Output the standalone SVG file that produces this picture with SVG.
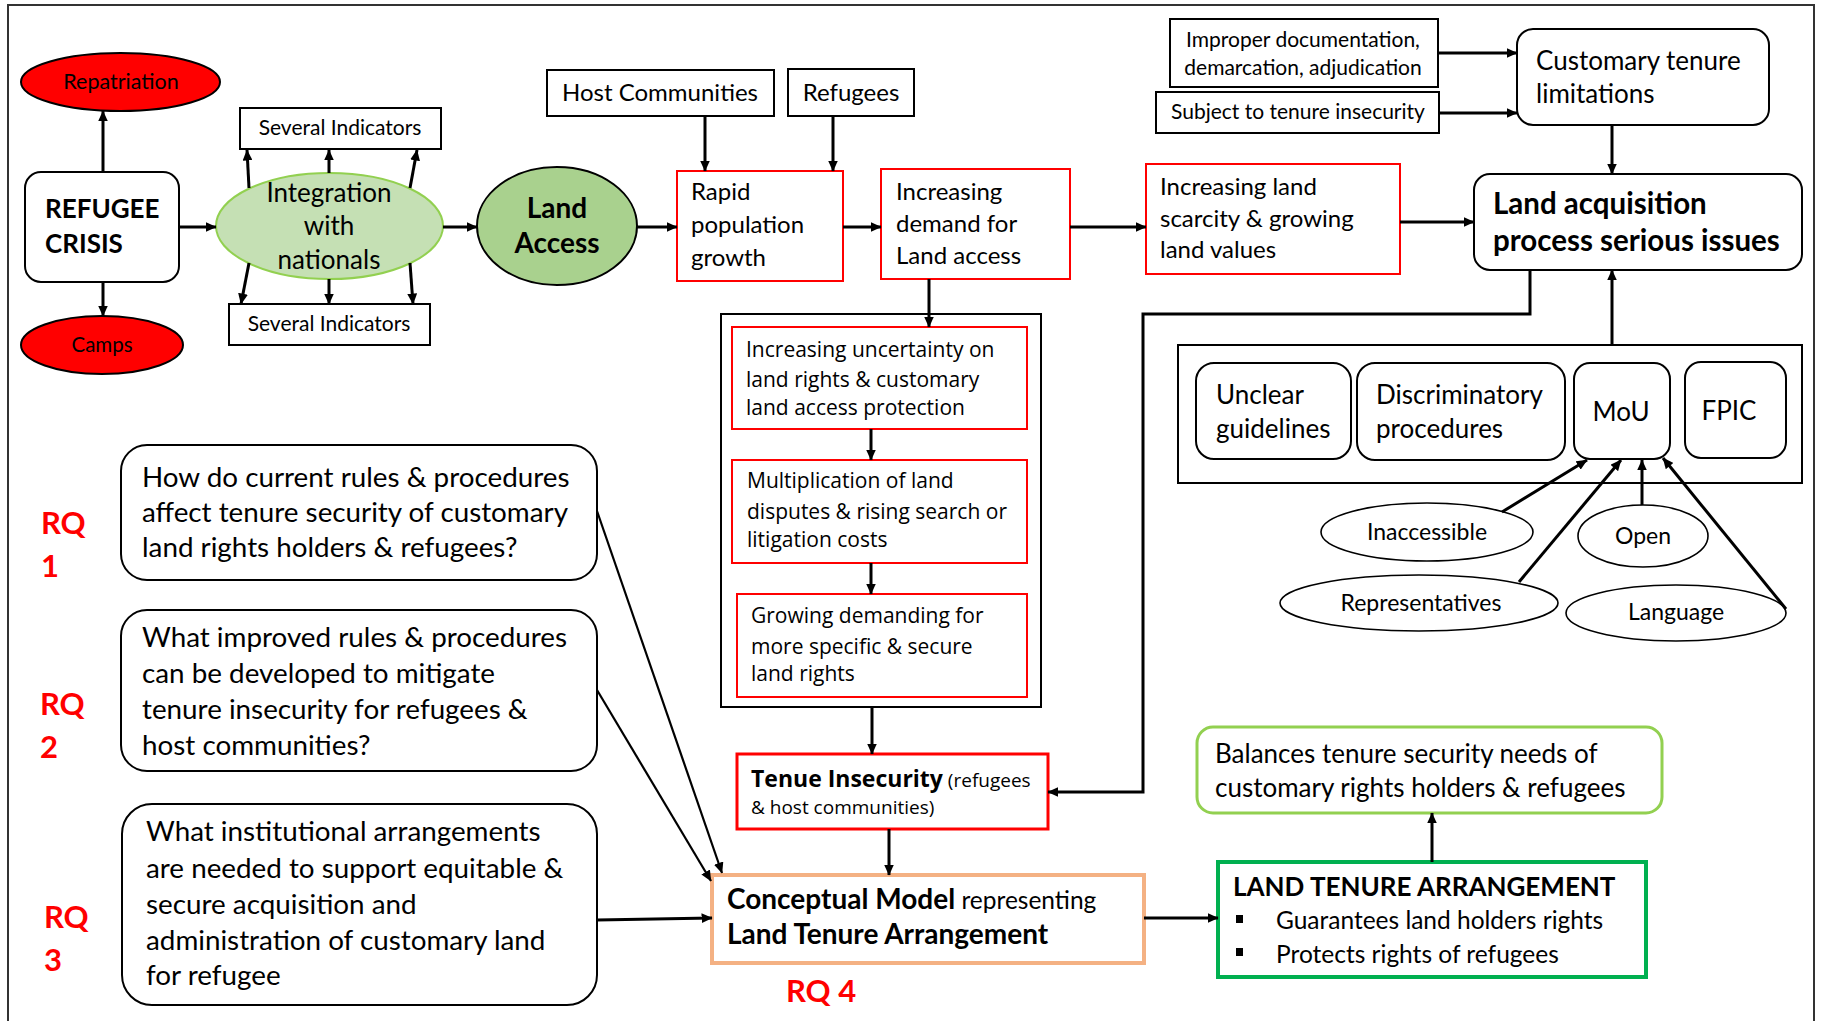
<svg xmlns="http://www.w3.org/2000/svg" width="1822" height="1021" viewBox="0 0 1822 1021">
  <defs>
    <marker id="arrow" viewBox="0 0 10 9" refX="9.5" refY="4.5" markerWidth="11" markerHeight="10" markerUnits="userSpaceOnUse" orient="auto">
      <path d="M0,0 L10,4.5 L0,9 z" fill="#000"/>
    </marker>
    <style>
      text { font-family: Lato, "Open Sans", "Liberation Sans", sans-serif; fill: #000; }
      .box { fill: #fff; stroke: #000; stroke-width: 2; }
      .red { fill: #fff; stroke: #ff0000; stroke-width: 2; }
      .redfill { fill: #ff0000; stroke: #000; stroke-width: 2; }
      .oval { fill: #fff; stroke: #000; stroke-width: 1.6; }
      .t20 { font-size: 20.5px; }
      .t21 { font-size: 21px; }
      .t23 { font-size: 23px; }
      .t24 { font-size: 24px; }
      .t26 { font-size: 26px; }
      .t27 { font-size: 27.8px; }
      .b { font-weight: bold; }
      .c { text-anchor: middle; }
      .os { font-family: "Open Sans", "Noto Sans", sans-serif; font-size: 21px; }
      .rq { font-size: 31px; font-weight: bold; fill: #ff0000; }
      #connectors path { fill: none; stroke: #000; stroke-width: 3; }
      #connectors path.thin { stroke-width: 2.2; }
    </style>
  </defs>

  <rect width="1822" height="1021" fill="#fff"/>
  <!-- frame -->
  <rect x="8" y="5" width="1806" height="1040" fill="none" stroke="#333" stroke-width="2"/>

  <!-- left cluster -->
  <g id="repatriation">
    <ellipse class="redfill" cx="120.5" cy="82" rx="99.5" ry="29"/>
    <text class="c" font-size="21.5" x="121" y="89">Repatriation</text>
  </g>
  <g id="camps">
    <ellipse class="redfill" cx="102" cy="345" rx="81" ry="29"/>
    <text class="t20 c" x="102" y="352">Camps</text>
  </g>
  <g id="refugee-crisis">
    <rect class="box" x="25" y="172" width="154" height="110" rx="16"/>
    <text class="b" x="45" y="218" font-size="26">REFUGEE</text>
    <text class="b" x="45" y="253" font-size="26">CRISIS</text>
  </g>
  <g id="integration">
    <ellipse cx="329.5" cy="226" rx="113.5" ry="53" fill="#c5e0b4" stroke="#92d050" stroke-width="2"/>
    <text class="t26 c" x="329" y="202">Integration</text>
    <text class="t26 c" x="329" y="235">with</text>
    <text class="t26 c" x="329" y="269">nationals</text>
  </g>
  <g id="indicators-top">
    <rect class="box" x="240" y="108" width="201" height="41"/>
    <text class="c" font-size="21" x="340" y="135">Several Indicators</text>
  </g>
  <g id="indicators-bottom">
    <rect class="box" x="229" y="304" width="201" height="41"/>
    <text class="c" font-size="21" x="329" y="331">Several Indicators</text>
  </g>
  <g id="land-access">
    <ellipse cx="557" cy="226" rx="80" ry="59" fill="#a9d18e" stroke="#000" stroke-width="2"/>
    <text class="b c" x="557" y="218" font-size="28">Land</text>
    <text class="b c" x="557" y="253" font-size="28">Access</text>
  </g>

  <!-- growth chain -->
  <g id="host-communities">
    <rect class="box" x="547" y="70" width="227" height="46"/>
    <text class="t24 c" x="660" y="101">Host Communities</text>
  </g>
  <g id="refugees">
    <rect class="box" x="788" y="69" width="126" height="47"/>
    <text class="t24 c" x="851" y="101">Refugees</text>
  </g>
  <g id="rapid-growth">
    <rect class="red" x="677" y="171" width="166" height="110"/>
    <text class="t24" x="691" y="200">Rapid</text>
    <text class="t24" x="691" y="233">population</text>
    <text class="t24" x="691" y="266">growth</text>
  </g>
  <g id="increasing-demand">
    <rect class="red" x="881" y="169" width="189" height="110"/>
    <text class="t24" x="896" y="200">Increasing</text>
    <text class="t24" x="896" y="232">demand for</text>
    <text class="t24" x="896" y="264">Land access</text>
  </g>
  <g id="land-scarcity">
    <rect class="red" x="1146" y="164" width="254" height="110"/>
    <text class="t24" x="1160" y="195">Increasing land</text>
    <text class="t24" x="1160" y="227">scarcity &amp; growing</text>
    <text class="t24" x="1160" y="258">land values</text>
  </g>

  <!-- customary tenure -->
  <g id="improper-documentation">
    <rect class="box" x="1170" y="19" width="268" height="68"/>
    <text class="t21 c" x="1303" y="47">Improper documentation,</text>
    <text class="t21 c" x="1303" y="75">demarcation, adjudication</text>
  </g>
  <g id="tenure-insecurity-input">
    <rect class="box" x="1156" y="92" width="283" height="41"/>
    <text class="t21 c" x="1298" y="119">Subject to tenure insecurity</text>
  </g>
  <g id="customary-limitations">
    <rect class="box" x="1517" y="29" width="252" height="96" rx="16"/>
    <text class="t26" x="1536" y="70">Customary tenure</text>
    <text class="t26" x="1536" y="103">limitations</text>
  </g>
  <g id="land-acquisition">
    <rect class="box" x="1474" y="174" width="328" height="96" rx="16"/>
    <text class="b" x="1493" y="214" font-size="29.5">Land acquisition</text>
    <text class="b" x="1493" y="251" font-size="29.5">process serious issues</text>
  </g>

  <!-- procedural issues -->
  <g id="issues">
    <rect class="box" x="1178" y="345" width="624" height="138"/>
    <rect class="box" x="1196" y="363" width="155" height="96" rx="18"/>
    <text class="t26" x="1216" y="404">Unclear</text>
    <text class="t26" x="1216" y="438">guidelines</text>
    <rect class="box" x="1357" y="363" width="208" height="97" rx="18"/>
    <text class="t26" x="1376" y="404">Discriminatory</text>
    <text class="t26" x="1376" y="438">procedures</text>
  </g>
  <g id="mou">
    <rect class="box" x="1574" y="363" width="96" height="96" rx="16"/>
    <text class="t26 c" x="1621" y="421">MoU</text>
  </g>
  <g id="fpic">
    <rect class="box" x="1685" y="362" width="101" height="96" rx="16"/>
    <text class="t26 c" x="1729" y="420">FPIC</text>
  </g>
  <g id="inaccessible">
    <ellipse class="oval" cx="1427" cy="532" rx="106" ry="29"/>
    <text class="t23 c" x="1427" y="540">Inaccessible</text>
  </g>
  <g id="open">
    <ellipse class="oval" cx="1643" cy="536" rx="65" ry="31"/>
    <text class="t23 c" x="1643" y="544">Open</text>
  </g>
  <g id="representatives">
    <ellipse class="oval" cx="1419" cy="603" rx="139" ry="28"/>
    <text class="t23 c" x="1421" y="611">Representatives</text>
  </g>
  <g id="language">
    <ellipse class="oval" cx="1676" cy="613" rx="110" ry="28"/>
    <text class="t23 c" x="1676" y="620">Language</text>
  </g>

  <!-- consequence column -->
  <g id="consequences">
    <rect class="box" x="721" y="314" width="320" height="393"/>
  </g>
  <g id="uncertainty">
    <rect class="red" x="732" y="327" width="295" height="102"/>
    <text class="os" x="746" y="357">Increasing uncertainty on</text>
    <text class="os" x="746" y="387">land rights &amp; customary</text>
    <text class="os" x="746" y="415">land access protection</text>
  </g>
  <g id="disputes">
    <rect class="red" x="732" y="460" width="295" height="103"/>
    <text class="os" x="747" y="488">Multiplication of land</text>
    <text class="os" x="747" y="519">disputes &amp; rising search or</text>
    <text class="os" x="747" y="547">litigation costs</text>
  </g>
  <g id="secure-rights-demand">
    <rect class="red" x="737" y="594" width="290" height="103"/>
    <text class="os" x="751" y="623">Growing demanding for</text>
    <text class="os" x="751" y="654">more specific &amp; secure</text>
    <text class="os" x="751" y="681">land rights</text>
  </g>
  <g id="tenue-insecurity">
    <rect x="737" y="754" width="311" height="75" fill="#fff" stroke="#ff0000" stroke-width="3"/>
    <text class="os" x="751" y="787"><tspan font-size="23" font-weight="bold">Tenue Insecurity</tspan><tspan font-size="19"> (refugees</tspan></text>
    <text class="os" font-size="19" x="751" y="814" style="font-size:19px">&amp; host communities)</text>
  </g>

  <!-- research questions -->
  <g id="rq1">
    <rect class="box" x="121" y="445" width="476" height="135" rx="26"/>
    <text class="t27" x="142" y="487">How do current rules &amp; procedures</text>
    <text class="t27" x="142" y="522">affect tenure security of customary</text>
    <text class="t27" x="142" y="557">land rights holders &amp; refugees?</text>
    <text class="rq" x="41" y="534">RQ</text>
    <text class="rq" x="41" y="577">1</text>
  </g>
  <g id="rq2">
    <rect class="box" x="121" y="610" width="476" height="161" rx="26"/>
    <text class="t27" x="142" y="647">What improved rules &amp; procedures</text>
    <text class="t27" x="142" y="683">can be developed to mitigate</text>
    <text class="t27" x="142" y="719">tenure insecurity for refugees &amp;</text>
    <text class="t27" x="142" y="755">host communities?</text>
    <text class="rq" x="40" y="715">RQ</text>
    <text class="rq" x="40" y="758">2</text>
  </g>
  <g id="rq3">
    <rect class="box" x="122" y="804" width="475" height="201" rx="30"/>
    <text class="t27" x="146" y="841">What institutional arrangements</text>
    <text class="t27" x="146" y="878">are needed to support equitable &amp;</text>
    <text class="t27" x="146" y="914">secure acquisition and</text>
    <text class="t27" x="146" y="950">administration of customary land</text>
    <text class="t27" x="146" y="985">for refugee</text>
    <text class="rq" x="44" y="928">RQ</text>
    <text class="rq" x="44" y="971">3</text>
  </g>

  <!-- outcome -->
  <g id="conceptual-model">
    <rect x="712" y="875" width="432" height="88" fill="#fff" stroke="#f4b183" stroke-width="4"/>
    <text x="727" y="909"><tspan class="b" font-size="28">Conceptual Model</tspan><tspan font-size="24.5"> representing</tspan></text>
    <text class="b" font-size="28" x="727" y="944">Land Tenure Arrangement</text>
    <text class="rq" x="786" y="1002">RQ 4</text>
  </g>
  <g id="land-tenure-arrangement">
    <rect x="1218" y="862" width="428" height="115" fill="#fff" stroke="#00b050" stroke-width="4"/>
    <text class="b" font-size="26" x="1233" y="896">LAND TENURE ARRANGEMENT</text>
    <rect x="1236" y="915" width="7" height="8" fill="#000"/>
    <rect x="1236" y="948" width="7" height="8" fill="#000"/>
    <text font-size="24.5" x="1276" y="929">Guarantees land holders rights</text>
    <text font-size="24.5" x="1276" y="963">Protects rights of refugees</text>
  </g>
  <g id="balances">
    <rect x="1197" y="727" width="465" height="86" rx="16" fill="#fff" stroke="#92d050" stroke-width="3"/>
    <text font-size="26" x="1215" y="763">Balances tenure security needs of</text>
    <text font-size="26" x="1215" y="797">customary rights holders &amp; refugees</text>
  </g>

  <g id="connectors">
    <path d="M103,172 L103,111" marker-end="url(#arrow)"/>
    <path d="M103,282 L103,316" marker-end="url(#arrow)"/>
    <path d="M179,227 L216,227" marker-end="url(#arrow)"/>
    <path d="M249,188 L247,150" marker-end="url(#arrow)"/>
    <path d="M329,173 L329,150" marker-end="url(#arrow)"/>
    <path d="M410,188 L417,150" marker-end="url(#arrow)"/>
    <path d="M249,263 L241,304" marker-end="url(#arrow)"/>
    <path d="M329,279 L329,304" marker-end="url(#arrow)"/>
    <path d="M410,263 L413,304" marker-end="url(#arrow)"/>
    <path d="M443,227 L477,227" marker-end="url(#arrow)"/>
    <path d="M637,227 L677,227" marker-end="url(#arrow)"/>
    <path d="M705,116 L705,171" marker-end="url(#arrow)"/>
    <path d="M833,116 L833,171" marker-end="url(#arrow)"/>
    <path d="M843,227 L881,227" marker-end="url(#arrow)"/>
    <path d="M1070,227 L1146,227" marker-end="url(#arrow)"/>
    <path d="M1400,222 L1474,222" marker-end="url(#arrow)"/>
    <path d="M1438,53 L1517,53" marker-end="url(#arrow)"/>
    <path d="M1439,113 L1517,113" marker-end="url(#arrow)"/>
    <path d="M1612,125 L1612,174" marker-end="url(#arrow)"/>
    <path d="M1612,345 L1612,270" marker-end="url(#arrow)"/>
    <path d="M1530,270 L1530,314 L1143,314 L1143,792 L1048,792" marker-end="url(#arrow)"/>
    <path d="M929,279 L929,327" marker-end="url(#arrow)"/>
    <path d="M871,429 L871,460" marker-end="url(#arrow)"/>
    <path d="M871,563 L871,594" marker-end="url(#arrow)"/>
    <path d="M872,707 L872,754" marker-end="url(#arrow)"/>
    <path d="M889,829 L889,875" marker-end="url(#arrow)"/>
    <path class="thin" d="M597,511 L722,873" marker-end="url(#arrow)"/>
    <path class="thin" d="M597,690 L711,881" marker-end="url(#arrow)"/>
    <path d="M597,920 L712,918" marker-end="url(#arrow)"/>
    <path d="M1144,918 L1218,918" marker-end="url(#arrow)"/>
    <path d="M1432,862 L1432,813" marker-end="url(#arrow)"/>
    <path d="M1502,512 L1587,460" marker-end="url(#arrow)"/>
    <path d="M1519,582 L1621,460" marker-end="url(#arrow)"/>
    <path d="M1642,505 L1642,460" marker-end="url(#arrow)"/>
    <path d="M1786,609 L1663,458" marker-end="url(#arrow)"/>
  </g>
</svg>
